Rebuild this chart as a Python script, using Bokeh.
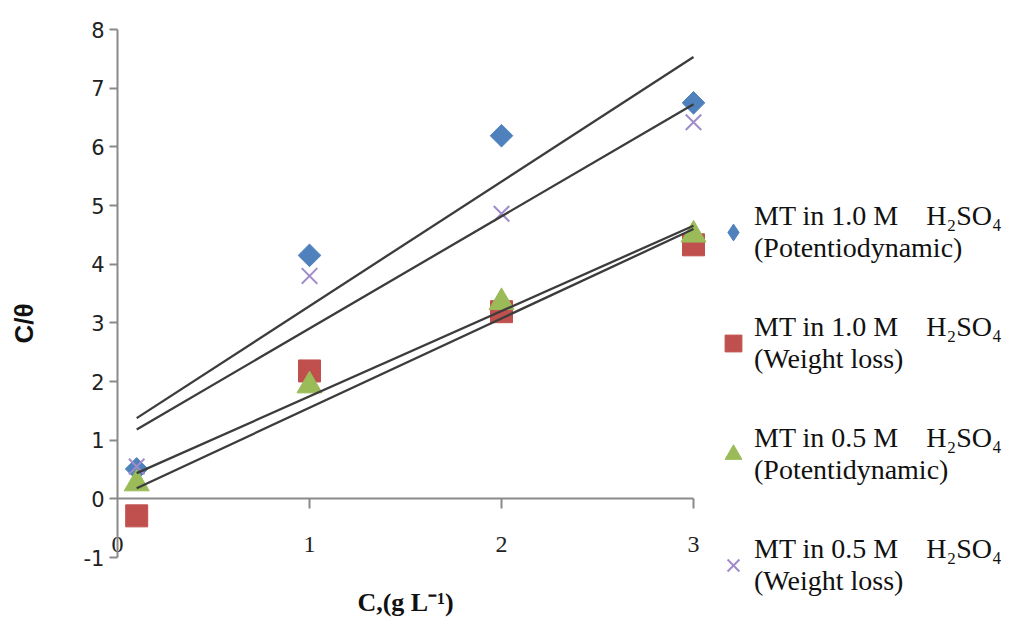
import numpy as np
from bokeh.plotting import figure
from bokeh.models import LinearAxis, FixedTicker, Legend, LegendItem, Range1d, Label
from bokeh.embed import file_html
from bokeh.resources import INLINE

# ---- data ----
conc = [0.1, 1.0, 2.0, 3.0]
mt10_potentio = [0.51, 4.15, 6.19, 6.75]
mt10_weight = [-0.29, 2.18, 3.19, 4.33]
mt05_potentio = [0.26, 1.93, 3.35, 4.50]
mt05_weight = [0.55, 3.80, 4.86, 6.42]

labels = [
    "MT in 1.0 M    H\u2082SO\u2084\n(Potentiodynamic)",
    "MT in 1.0 M    H\u2082SO\u2084\n(Weight loss)",
    "MT in 0.5 M    H\u2082SO\u2084\n(Potentidynamic)",
    "MT in 0.5 M    H\u2082SO\u2084\n(Weight loss)",
]
x_title = "C,(g L\u207b\u00b9)"
y_title = "C/\u03b8"
x_ticks = [0, 1, 2, 3]
y_ticks = [-1, 0, 1, 2, 3, 4, 5, 6, 7, 8]

# ---- layout constants (pixels) ----
W, H = 1012, 617
FRAME_LEFT, FRAME_TOP = 117, 29
PX_PER_X, PX_PER_Y = 192.0, 58.67
x_end = (W - FRAME_LEFT) / PX_PER_X          # frame runs to the right edge (legend lives inside)
y_start = y_ticks[-1] - (H - FRAME_TOP) / PX_PER_Y

AXIS_GRAY = "#8a8a8a"
SERIF = "Liberation Serif"

p = figure(width=W, height=H, x_range=Range1d(0, x_end), y_range=Range1d(y_start, y_ticks[-1]),
           output_backend="svg", toolbar_location=None,
           min_border_left=FRAME_LEFT, min_border_top=FRAME_TOP, min_border_bottom=0, min_border_right=0)
p.grid.visible = False
p.outline_line_color = None
p.background_fill_color = "white"
p.border_fill_color = "white"

# y axis (at x = 0, frame left)
ya = p.yaxis[0]
ya.ticker = FixedTicker(ticks=y_ticks)
ya.bounds = (y_ticks[0], y_ticks[-1])
ya.major_label_overrides = {-1: "-1"}
ya.axis_line_color = AXIS_GRAY
ya.axis_line_width = 2
ya.major_tick_line_color = AXIS_GRAY
ya.major_tick_line_width = 2
ya.major_tick_out = 8
ya.major_tick_in = 0
ya.minor_tick_line_color = None
ya.major_label_text_font = "DejaVu Sans"
ya.major_label_text_font_size = "21px"
ya.major_label_text_color = "#222222"
ya.major_label_standoff = 5
ya.axis_label = y_title
ya.axis_label_text_font = "Liberation Sans"
ya.axis_label_text_font_style = "bold"
ya.axis_label_text_font_size = "26px"
ya.axis_label_text_color = "#111111"
ya.axis_label_standoff = 42

# bottom axis (frame bottom): only tick labels, pulled up into place
xa = p.xaxis[0]
xa.ticker = FixedTicker(ticks=x_ticks)
xa.axis_line_color = None
xa.major_tick_line_color = None
xa.minor_tick_line_color = None
xa.major_tick_out = 0
xa.major_tick_in = 0
xa.major_label_text_font = SERIF
xa.major_label_text_font_size = "24px"
xa.major_label_text_color = "#222222"
xa.major_label_standoff = -81

# x axis title, centred under the 0..3 axis
p.add_layout(Label(x=(x_ticks[0] + x_ticks[-1]) / 2, y=H - 602, x_units="data", y_units="screen",
                   text=x_title, text_font=SERIF, text_font_style="bold", text_font_size="26px",
                   text_color="#111111", text_align="center", text_baseline="middle"))

# x axis line drawn at y = 0
zero_axis = LinearAxis(fixed_location=0, bounds=(x_ticks[0], x_ticks[-1]), ticker=FixedTicker(ticks=x_ticks[1:]),
                       axis_line_color=AXIS_GRAY, axis_line_width=2,
                       major_tick_line_color=AXIS_GRAY, major_tick_line_width=2,
                       major_tick_in=10, major_tick_out=0, minor_tick_line_color=None,
                       major_label_text_color=None, major_label_standoff=0)
p.add_layout(zero_axis, "above")

# markers
r1_shape = p.scatter(conc, mt10_potentio, marker="diamond", size=21,
                     fill_color="#4F81BD", line_color="#4F81BD")
r1 = p.scatter(conc, mt10_potentio, marker="square", size=16, angle=np.pi / 4,
               fill_color="#4F81BD", line_color="#4F81BD")
r2 = p.scatter(conc, mt10_weight, marker="square", size=22,
               fill_color="#C0504D", line_color="#C0504D")
r3 = p.scatter(conc, mt05_potentio, marker="triangle", size=25,
               fill_color="#9BBB59", line_color="#9BBB59")
r4 = p.scatter(conc, mt05_weight, marker="x", size=22, line_color="#A08CCB", line_width=2)

# linear trend lines (least squares fits of each series)
for ys in (mt10_potentio, mt05_weight, mt10_weight, mt05_potentio):
    slope, icpt = np.polyfit(conc, ys, 1)
    xs = [conc[0], conc[-1]]
    p.line(xs, [slope * xv + icpt for xv in xs], line_color="#3c3c3c", line_width=2.3)

legend = Legend(items=[LegendItem(label=l, renderers=[r]) for l, r in zip(labels, [r1_shape, r2, r3, r4])],
                location=(595, 20), orientation="vertical",
                label_text_font=SERIF, label_text_font_size="28px", label_text_color="#111111",
                label_text_line_height=1.45,
                glyph_width=42, glyph_height=50, label_standoff=0, spacing=47,
                padding=0, margin=0, border_line_color=None, background_fill_alpha=0)
p.add_layout(legend, "center")

open("out.html", "w").write(file_html(p, INLINE))
